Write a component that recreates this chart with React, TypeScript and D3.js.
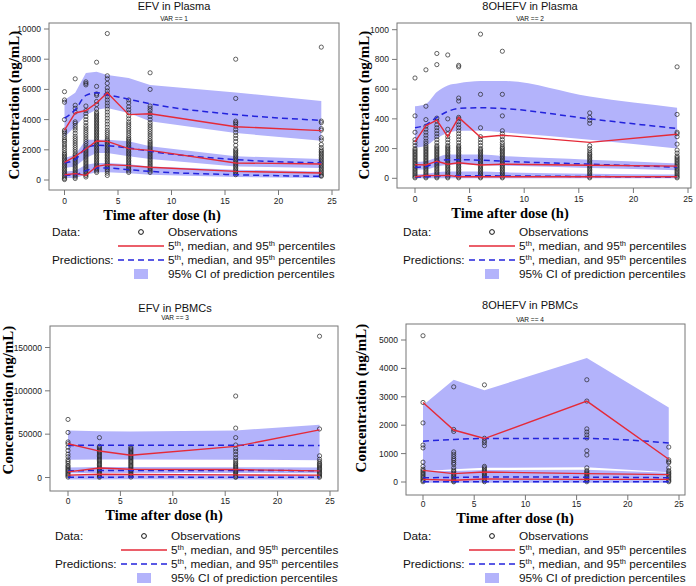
import React from "react";
import * as d3 from "d3";

// ---------------- Panel 1: EFV in Plasma ----------------
const efvPlasmaTimes = [0, 1, 2, 3, 4, 6, 8, 16, 24];
const efvPlasmaObs: number[][] = [
  [5850, 5300, 5150, 4000, 3300, 3200, 3100, 2950, 2800, 2650, 2550, 2400, 2250, 2100, 1950, 1800, 1700, 1600, 1500, 1400, 1300, 1200, 1100, 1000, 900, 800, 700, 600, 500, 400, 300, 200, 100, 30],
  [6700, 4950, 4750, 4500, 3850, 3750, 3600, 3450, 3300, 3100, 2900, 2750, 2600, 2450, 2300, 2150, 2000, 1850, 1700, 1600, 1500, 1400, 1300, 1200, 1100, 1000, 900, 800, 700, 600, 500, 400, 300, 200, 100],
  [6500, 6400, 6300, 4900, 4600, 4400, 4200, 4000, 3800, 3600, 3450, 3300, 3150, 3000, 2850, 2700, 2550, 2400, 2250, 2100, 2000, 1900, 1800, 1700, 1600, 1500, 1400, 1300, 1200, 1100, 1000, 900, 800, 700, 600, 500, 400, 300, 200],
  [7800, 6200, 5700, 5600, 5200, 5000, 4700, 4500, 4400, 4300, 4200, 4100, 4000, 3900, 3800, 3700, 3600, 3500, 3400, 3300, 3200, 3100, 3000, 2900, 2800, 2700, 2600, 2500, 2400, 2300, 2200, 2100, 2000, 1900, 1800, 1700, 1600, 1500, 1400, 1300, 1200, 1100, 1000, 900, 800, 700, 600, 500],
  [9700, 6900, 6700, 6400, 6100, 5900, 5700, 5500, 5300, 5100, 4900, 4700, 4500, 4300, 4100, 3900, 3700, 3500, 3300, 3150, 3000, 2850, 2700, 2600, 2500, 2400, 2300, 2200, 2100, 2000, 1900, 1800, 1700, 1600, 1500, 1400, 1300, 1200, 1100, 1000, 900, 800, 700, 600, 450, 300],
  [5300, 5100, 4850, 4650, 4450, 4250, 4050, 3850, 3700, 3550, 3400, 3250, 3100, 2950, 2800, 2700, 2600, 2500, 2400, 2300, 2200, 2100, 2000, 1900, 1800, 1700, 1600, 1500, 1400, 1300, 1200, 1100, 1000, 900, 800, 700, 600, 500],
  [7100, 6000, 4900, 4750, 4600, 4400, 4200, 4000, 3800, 3650, 3500, 3350, 3200, 3050, 2900, 2750, 2600, 2500, 2400, 2300, 2200, 2100, 2000, 1900, 1800, 1700, 1600, 1500, 1400, 1300, 1200, 1100, 1000, 900, 800, 700, 600, 500],
  [8000, 5400, 3900, 3800, 3700, 3550, 3350, 3150, 2950, 2750, 2550, 2300, 2050, 1950, 1850, 1750, 1650, 1550, 1450, 1350, 1250, 1150, 1050, 950, 850, 750, 650, 550, 450, 350],
  [8800, 3900, 3800, 3400, 3300, 2800, 2650, 2350, 2150, 2000, 1900, 1800, 1700, 1600, 1500, 1400, 1300, 1200, 1100, 1000, 900, 800, 700, 600, 500, 400, 300, 250],
];
const efvPlasmaObsP05 = [350, 420, 310, 900, 1015, 950, 840, 570, 460];
const efvPlasmaObsP50 = [1170, 1570, 2050, 2580, 2560, 2075, 1960, 1130, 1060];
const efvPlasmaObsP95 = [3300, 4440, 4600, 5100, 5780, 4330, 4390, 3530, 3270];
const efvPlasmaPredP05 = [310, 350, 620, 800, 800, 680, 570, 350, 240];
const efvPlasmaPredP50 = [1130, 1350, 2120, 2300, 2270, 2120, 1900, 1350, 1130];
const efvPlasmaPredP95 = [4100, 4650, 5600, 5780, 5650, 5350, 5050, 4330, 3950];
const efvPlasmaCI05Lo = [130, 130, 350, 510, 510, 450, 350, 200, 130];
const efvPlasmaCI05Hi = [570, 620, 1015, 1120, 1120, 1050, 900, 680, 570];
const efvPlasmaCI50Lo = [800, 900, 1460, 1790, 1790, 1570, 1390, 900, 800];
const efvPlasmaCI50Hi = [1460, 1680, 2670, 2670, 2670, 2560, 2230, 1570, 1390];
const efvPlasmaCI95Lo = [2850, 3550, 4300, 4660, 4770, 4440, 3890, 3110, 2600];
const efvPlasmaCI95Hi = [5300, 5780, 7090, 7170, 6950, 6750, 6290, 5800, 5230];
const efvPlasmaYTicks = [0, 2000, 4000, 6000, 8000, 10000];

// ---------------- Panel 2: 8OHEFV in Plasma ----------------
const ohPlasmaTimes = [0, 1, 2, 3, 4, 6, 8, 16, 24];
const ohPlasmaObs: number[][] = [
  [675, 420, 310, 260, 240, 220, 200, 190, 180, 170, 160, 150, 140, 130, 120, 110, 100, 90, 80, 70, 60, 50, 40, 30, 20, 10, 3],
  [730, 485, 395, 350, 330, 310, 290, 270, 250, 235, 220, 210, 200, 190, 180, 170, 160, 150, 140, 130, 120, 110, 100, 90, 80, 70, 60, 50, 40, 30, 20, 10, 3],
  [840, 765, 405, 385, 360, 340, 320, 300, 280, 260, 240, 220, 210, 200, 190, 180, 170, 160, 150, 140, 130, 120, 110, 100, 90, 80, 70, 60, 50, 40, 30, 20, 10, 3],
  [830, 400, 330, 300, 280, 260, 240, 220, 210, 200, 190, 180, 170, 160, 150, 140, 130, 120, 110, 100, 90, 80, 70, 60, 50, 40, 30, 20, 10, 3],
  [760, 750, 540, 520, 410, 400, 380, 360, 340, 320, 300, 280, 260, 240, 220, 210, 200, 190, 180, 170, 160, 150, 140, 130, 120, 110, 100, 90, 80, 70, 60, 50, 40, 30, 20, 10, 3],
  [970, 565, 340, 280, 260, 240, 220, 200, 190, 180, 170, 160, 150, 140, 130, 120, 110, 100, 90, 80, 70, 60, 50, 40, 30, 20, 10, 3],
  [855, 565, 420, 320, 300, 280, 260, 240, 225, 210, 200, 190, 180, 170, 160, 150, 140, 130, 120, 110, 100, 90, 80, 70, 60, 50, 40, 30, 20, 10, 3],
  [440, 410, 390, 370, 220, 200, 185, 170, 160, 150, 140, 130, 120, 110, 100, 90, 80, 70, 60, 50, 40, 30, 20, 10, 3],
  [750, 430, 310, 300, 280, 230, 190, 170, 150, 140, 130, 120, 110, 100, 90, 80, 70, 60, 50, 40, 30, 20, 10, 3],
];
const ohPlasmaObsP05 = [10, 20, 18, 20, 10, 10, 10, 10, 10];
const ohPlasmaObsP50 = [92, 90, 115, 95, 105, 90, 95, 88, 82];
const ohPlasmaObsP95 = [245, 355, 392, 280, 410, 276, 290, 242, 296];
const ohPlasmaPredP05 = [8, 10, 15, 18, 18, 17, 16, 12, 8];
const ohPlasmaPredP50 = [75, 80, 110, 125, 125, 122, 115, 95, 75];
const ohPlasmaPredP95 = [340, 360, 410, 450, 470, 475, 470, 400, 335];
const ohPlasmaCI05Lo = [0, 0, 0, 0, 0, 0, 0, 0, 0];
const ohPlasmaCI05Hi = [25, 30, 40, 45, 45, 45, 40, 30, 25];
const ohPlasmaCI50Lo = [60, 60, 80, 90, 95, 90, 85, 70, 55];
const ohPlasmaCI50Hi = [110, 115, 140, 160, 160, 160, 150, 125, 100];
const ohPlasmaCI95Lo = [205, 220, 270, 305, 320, 320, 310, 260, 200];
const ohPlasmaCI95Hi = [485, 500, 580, 625, 640, 655, 655, 550, 475];
const ohPlasmaYTicks = [0, 200, 400, 600, 800, 1000];

// ---------------- Panel 3: EFV in PBMCs ----------------
const efvPbmcTimes = [0, 3, 6, 16, 24];
const efvPbmcObs: number[][] = [
  [67000, 52000, 41000, 39000, 35000, 31000, 27000, 24000, 20500, 18500, 16500, 14000, 12500, 11000, 9500, 8000, 6500, 5000, 3500, 2000, 500],
  [46000, 36000, 34500, 33000, 31500, 30000, 28500, 27000, 25500, 24000, 22500, 21000, 19500, 18000, 16500, 15000, 13500, 12000, 10500, 9000, 7500, 6000, 4500, 3000, 1500, 300],
  [35000, 33500, 32000, 30500, 29000, 27500, 26000, 24500, 23000, 21500, 20000, 18500, 17000, 15500, 14000, 12500, 11000, 9500, 8000, 6500, 5000, 3500, 2000, 500],
  [94000, 57000, 46000, 37500, 33000, 30000, 26500, 23000, 20000, 18000, 16000, 14500, 13000, 11500, 10000, 8500, 7000, 5500, 4000, 2500, 1000, 200],
  [163000, 56000, 25000, 21000, 18500, 16500, 15000, 13500, 12000, 10500, 9000, 7500, 6000, 4500, 3000, 1500, 300],
];
const efvPbmcObsP05 = [2700, 3800, 3400, 3000, 2700];
const efvPbmcObsP50 = [6500, 11000, 9500, 9200, 7600];
const efvPbmcObsP95 = [38900, 30500, 25600, 35900, 55000];
const efvPbmcPredP05 = [400, 400, 450, 400, 350];
const efvPbmcPredP50 = [7800, 8000, 8100, 8000, 7900];
const efvPbmcPredP95 = [37000, 37200, 37300, 37200, 37000];
const efvPbmcCI05Lo = [-2200, -2200, -2100, -2200, -2300];
const efvPbmcCI05Hi = [2600, 2700, 2700, 2600, 2500];
const efvPbmcCI50Lo = [4800, 5200, 5300, 5200, 4900];
const efvPbmcCI50Hi = [11500, 12000, 12000, 11800, 11500];
const efvPbmcCI95Lo = [20500, 20800, 20800, 20600, 19800];
const efvPbmcCI95Hi = [54300, 53500, 53000, 54200, 61000];
const efvPbmcYTicks = [0, 50000, 100000, 150000];

// ---------------- Panel 4: 8OHEFV in PBMCs ----------------
const ohPbmcTimes = [0, 3, 6, 16, 24];
const ohPbmcObs: number[][] = [
  [5150, 2800, 2080, 1300, 1200, 700, 550, 450, 400, 350, 300, 250, 200, 150, 100, 50, 10],
  [3350, 1850, 1780, 1060, 980, 900, 820, 760, 680, 620, 500, 420, 370, 320, 270, 220, 170, 120, 70, 30, 5],
  [3420, 1540, 1450, 1380, 1280, 550, 500, 450, 400, 350, 300, 250, 200, 150, 100, 50, 10],
  [3600, 2850, 1870, 1760, 1660, 1550, 1100, 950, 500, 400, 350, 300, 250, 200, 150, 100, 50, 10],
  [1230, 780, 720, 680, 500, 400, 350, 300, 250, 200, 150, 100, 50, 10],
];
const ohPbmcObsP05 = [94, 60, 105, 94, 94];
const ohPbmcObsP50 = [410, 294, 353, 294, 260];
const ohPbmcObsP95 = [2800, 1830, 1530, 2850, 800];
const ohPbmcPredP05 = [10, 10, 12, 12, 10];
const ohPbmcPredP50 = [150, 160, 176, 170, 150];
const ohPbmcPredP95 = [1435, 1500, 1530, 1530, 1376];
const ohPbmcCI05Lo = [-30, -30, -30, -30, -30];
const ohPbmcCI05Hi = [60, 60, 70, 70, 60];
const ohPbmcCI50Lo = [60, 70, 80, 80, 60];
const ohPbmcCI50Hi = [380, 390, 420, 430, 330];
const ohPbmcCI95Lo = [380, 450, 500, 520, 340];
const ohPbmcCI95Hi = [2700, 3600, 3230, 4370, 2620];
const ohPbmcYTicks = [0, 1000, 2000, 3000, 4000, 5000];

const xTicks = [0, 5, 10, 15, 20, 25];

const BAND = "#b3b3fb";
const RED = "#e52a38";
const BLUE = "#2323dc";
const SANS = "'Liberation Sans', Arial, sans-serif";
const SERIF = "'Liberation Serif', 'Times New Roman', serif";

type Series = {
  times: number[];
  obs: number[][];
  obsP: number[][];
  predP: number[][];
  ci: [number[], number[]][];
  yTicks: number[];
  smoothBand: boolean;
};

type Layout = {
  id: string;
  left: number; right: number; top: number; bottom: number;
  x0: number; x25: number; y0: number; yRefVal: number; yRefPx: number;
  title: string; titleX: number; titleY: number; varText: string; varY: number;
  tickLabelY: number; xLabelX: number; xLabelY: number;
  yLabelX: number; yLabelY: number; legendX: number; legendY: number;
};

const panels: { s: Series; l: Layout }[] = [
  {
    s: {
      times: efvPlasmaTimes, obs: efvPlasmaObs,
      obsP: [efvPlasmaObsP05, efvPlasmaObsP50, efvPlasmaObsP95],
      predP: [efvPlasmaPredP05, efvPlasmaPredP50, efvPlasmaPredP95],
      ci: [[efvPlasmaCI05Lo, efvPlasmaCI05Hi], [efvPlasmaCI50Lo, efvPlasmaCI50Hi], [efvPlasmaCI95Lo, efvPlasmaCI95Hi]],
      yTicks: efvPlasmaYTicks, smoothBand: false,
    },
    l: {
      id: "p1", left: 49, right: 339, top: 23, bottom: 190, x0: 64.5, x25: 332, y0: 180, yRefVal: 10000, yRefPx: 29,
      title: "EFV in Plasma", titleX: 174, titleY: 10, varText: "VAR == 1", varY: 20.5,
      tickLabelY: 204, xLabelX: 162, xLabelY: 220, yLabelX: 19, yLabelY: 105, legendX: 52, legendY: 232,
    },
  },
  {
    s: {
      times: ohPlasmaTimes, obs: ohPlasmaObs,
      obsP: [ohPlasmaObsP05, ohPlasmaObsP50, ohPlasmaObsP95],
      predP: [ohPlasmaPredP05, ohPlasmaPredP50, ohPlasmaPredP95],
      ci: [[ohPlasmaCI05Lo, ohPlasmaCI05Hi], [ohPlasmaCI50Lo, ohPlasmaCI50Hi], [ohPlasmaCI95Lo, ohPlasmaCI95Hi]],
      yTicks: ohPlasmaYTicks, smoothBand: true,
    },
    l: {
      id: "p2", left: 397, right: 691, top: 23, bottom: 188, x0: 415, x25: 688, y0: 178.3, yRefVal: 1000, yRefPx: 29.7,
      title: "8OHEFV in Plasma", titleX: 530, titleY: 10, varText: "VAR == 2", varY: 20.5,
      tickLabelY: 202, xLabelX: 510, xLabelY: 218, yLabelX: 369, yLabelY: 105, legendX: 403, legendY: 232,
    },
  },
  {
    s: {
      times: efvPbmcTimes, obs: efvPbmcObs,
      obsP: [efvPbmcObsP05, efvPbmcObsP50, efvPbmcObsP95],
      predP: [efvPbmcPredP05, efvPbmcPredP50, efvPbmcPredP95],
      ci: [[efvPbmcCI05Lo, efvPbmcCI05Hi], [efvPbmcCI50Lo, efvPbmcCI50Hi], [efvPbmcCI95Lo, efvPbmcCI95Hi]],
      yTicks: efvPbmcYTicks, smoothBand: false,
    },
    l: {
      id: "p3", left: 50, right: 338, top: 326, bottom: 491, x0: 68, x25: 330, y0: 477.5, yRefVal: 150000, yRefPx: 347.5,
      title: "EFV in PBMCs", titleX: 175, titleY: 312, varText: "VAR == 3", varY: 320,
      tickLabelY: 504, xLabelX: 164, xLabelY: 520, yLabelX: 13, yLabelY: 400, legendX: 55, legendY: 536,
    },
  },
  {
    s: {
      times: ohPbmcTimes, obs: ohPbmcObs,
      obsP: [ohPbmcObsP05, ohPbmcObsP50, ohPbmcObsP95],
      predP: [ohPbmcPredP05, ohPbmcPredP50, ohPbmcPredP95],
      ci: [[ohPbmcCI05Lo, ohPbmcCI05Hi], [ohPbmcCI50Lo, ohPbmcCI50Hi], [ohPbmcCI95Lo, ohPbmcCI95Hi]],
      yTicks: ohPbmcYTicks, smoothBand: false,
    },
    l: {
      id: "p4", left: 406, right: 685, top: 324, bottom: 495, x0: 423, x25: 679, y0: 482, yRefVal: 5000, yRefPx: 340,
      title: "8OHEFV in PBMCs", titleX: 530, titleY: 309, varText: "VAR == 4", varY: 322,
      tickLabelY: 507, xLabelX: 515, xLabelY: 523, yLabelX: 366, yLabelY: 398, legendX: 403, legendY: 536,
    },
  },
];

function Legend({ x, y }: { x: number; y: number }) {
  const fs = 11.8;
  const sup = (label: string) => (
    <>
      <tspan>5</tspan>
      <tspan dy={-4.5} fontSize={7.5}>th</tspan>
      <tspan dy={4.5}>, median, and 95</tspan>
      <tspan dy={-4.5} fontSize={7.5}>th</tspan>
      <tspan dy={4.5}>{label}</tspan>
    </>
  );
  const tx = x + 116;
  const cx = x + 89;
  return (
    <g fontFamily={SANS} fontSize={fs} fill="#111">
      <text x={x} y={y + 4}>Data:</text>
      <circle cx={cx} cy={y} r={2.4} fill="none" stroke="#111" strokeWidth={1} />
      <text x={tx} y={y + 4}>Observations</text>
      <line x1={x + 66} x2={x + 112} y1={y + 14} y2={y + 14} stroke={RED} strokeWidth={1.6} />
      <text x={tx} y={y + 18}>{sup(" percentiles")}</text>
      <text x={x} y={y + 32}>Predictions:</text>
      <line x1={x + 66} x2={x + 112} y1={y + 28} y2={y + 28} stroke={BLUE} strokeWidth={1.6} strokeDasharray="6,4" />
      <text x={tx} y={y + 32}>{sup(" percentiles")}</text>
      <rect x={cx - 7} y={y + 37} width={14} height={10} fill={BAND} />
      <text x={tx} y={y + 46}>95% CI of prediction percentiles</text>
    </g>
  );
}

function Panel({ s, l }: { s: Series; l: Layout }) {
  const x = d3.scaleLinear().domain([0, 25]).range([l.x0, l.x25]);
  const y = d3.scaleLinear().domain([0, l.yRefVal]).range([l.y0, l.yRefPx]);
  const idx = s.times.map((_, i) => i);
  const area = (lo: number[], hi: number[]) =>
    d3.area<number>()
      .x((i) => x(s.times[i]))
      .y0((i) => y(lo[i]))
      .y1((i) => y(hi[i]))
      .curve(s.smoothBand ? d3.curveMonotoneX : d3.curveLinear)(idx) || "";
  const lineRed = (v: number[]) =>
    d3.line<number>().x((i) => x(s.times[i])).y((i) => y(v[i]))(idx) || "";
  const lineBlue = (v: number[]) =>
    d3.line<number>().x((i) => x(s.times[i])).y((i) => y(v[i])).curve(d3.curveMonotoneX)(idx) || "";
  const clipId = `clip-${l.id}`;
  const fmt = d3.format("d");
  return (
    <g>
      <defs>
        <clipPath id={clipId}>
          <rect x={l.left} y={l.top} width={l.right - l.left} height={l.bottom - l.top} />
        </clipPath>
      </defs>
      <text x={l.titleX} y={l.titleY} textAnchor="middle" fontFamily={SANS} fontSize={11} fill="#111">{l.title}</text>
      <text x={l.titleX} y={l.varY} textAnchor="middle" fontFamily={SANS} fontSize={6.5} fill="#111">{l.varText}</text>
      <g clipPath={`url(#${clipId})`}>
        {s.ci.map(([lo, hi], k) => (
          <path key={`b${k}`} d={area(lo, hi)} fill={BAND} stroke="none" />
        ))}
        {s.obs.map((vals, i) =>
          vals.map((v, j) => (
            <circle key={`o${i}-${j}`} cx={x(s.times[i])} cy={y(v)} r={2.1} fill="none" stroke="#222" strokeWidth={0.7} />
          ))
        )}
        {s.predP.map((v, k) => (
          <path key={`p${k}`} d={lineBlue(v)} fill="none" stroke={BLUE} strokeWidth={1.5} strokeDasharray="6,4" />
        ))}
        {s.obsP.map((v, k) => (
          <path key={`r${k}`} d={lineRed(v)} fill="none" stroke={RED} strokeWidth={1.4} />
        ))}
      </g>
      <rect x={l.left} y={l.top} width={l.right - l.left} height={l.bottom - l.top} fill="none" stroke="#777" strokeWidth={1} />
      {s.yTicks.map((t) => (
        <g key={`yt${t}`}>
          <line x1={l.left - 5} x2={l.left} y1={y(t)} y2={y(t)} stroke="#777" strokeWidth={1} />
          <text x={l.left - 8} y={y(t) + 3} textAnchor="end" fontFamily={SANS} fontSize={8.5} fill="#222">{fmt(t)}</text>
        </g>
      ))}
      {xTicks.map((t) => (
        <g key={`xt${t}`}>
          <line x1={x(t)} x2={x(t)} y1={l.bottom} y2={l.bottom + 5} stroke="#777" strokeWidth={1} />
          <text x={x(t)} y={l.tickLabelY} textAnchor="middle" fontFamily={SANS} fontSize={8.5} fill="#222">{t}</text>
        </g>
      ))}
      <text x={l.xLabelX} y={l.xLabelY} textAnchor="middle" fontFamily={SERIF} fontWeight="bold" fontSize={14.5} fill="#000">Time after dose (h)</text>
      <text transform={`translate(${l.yLabelX},${l.yLabelY}) rotate(-90)`} textAnchor="middle" fontFamily={SERIF} fontWeight="bold" fontSize={15} fill="#000">Concentration (ng/mL)</text>
      <Legend x={l.legendX} y={l.legendY} />
    </g>
  );
}

export default function App() {
  return (
    <svg width={696} height={586} style={{ position: "absolute", left: 0, top: 0, background: "#fff" }}>
      <rect x={0} y={0} width={696} height={586} fill="#fff" />
      {panels.map((p) => (
        <Panel key={p.l.id} s={p.s} l={p.l} />
      ))}
    </svg>
  );
}
